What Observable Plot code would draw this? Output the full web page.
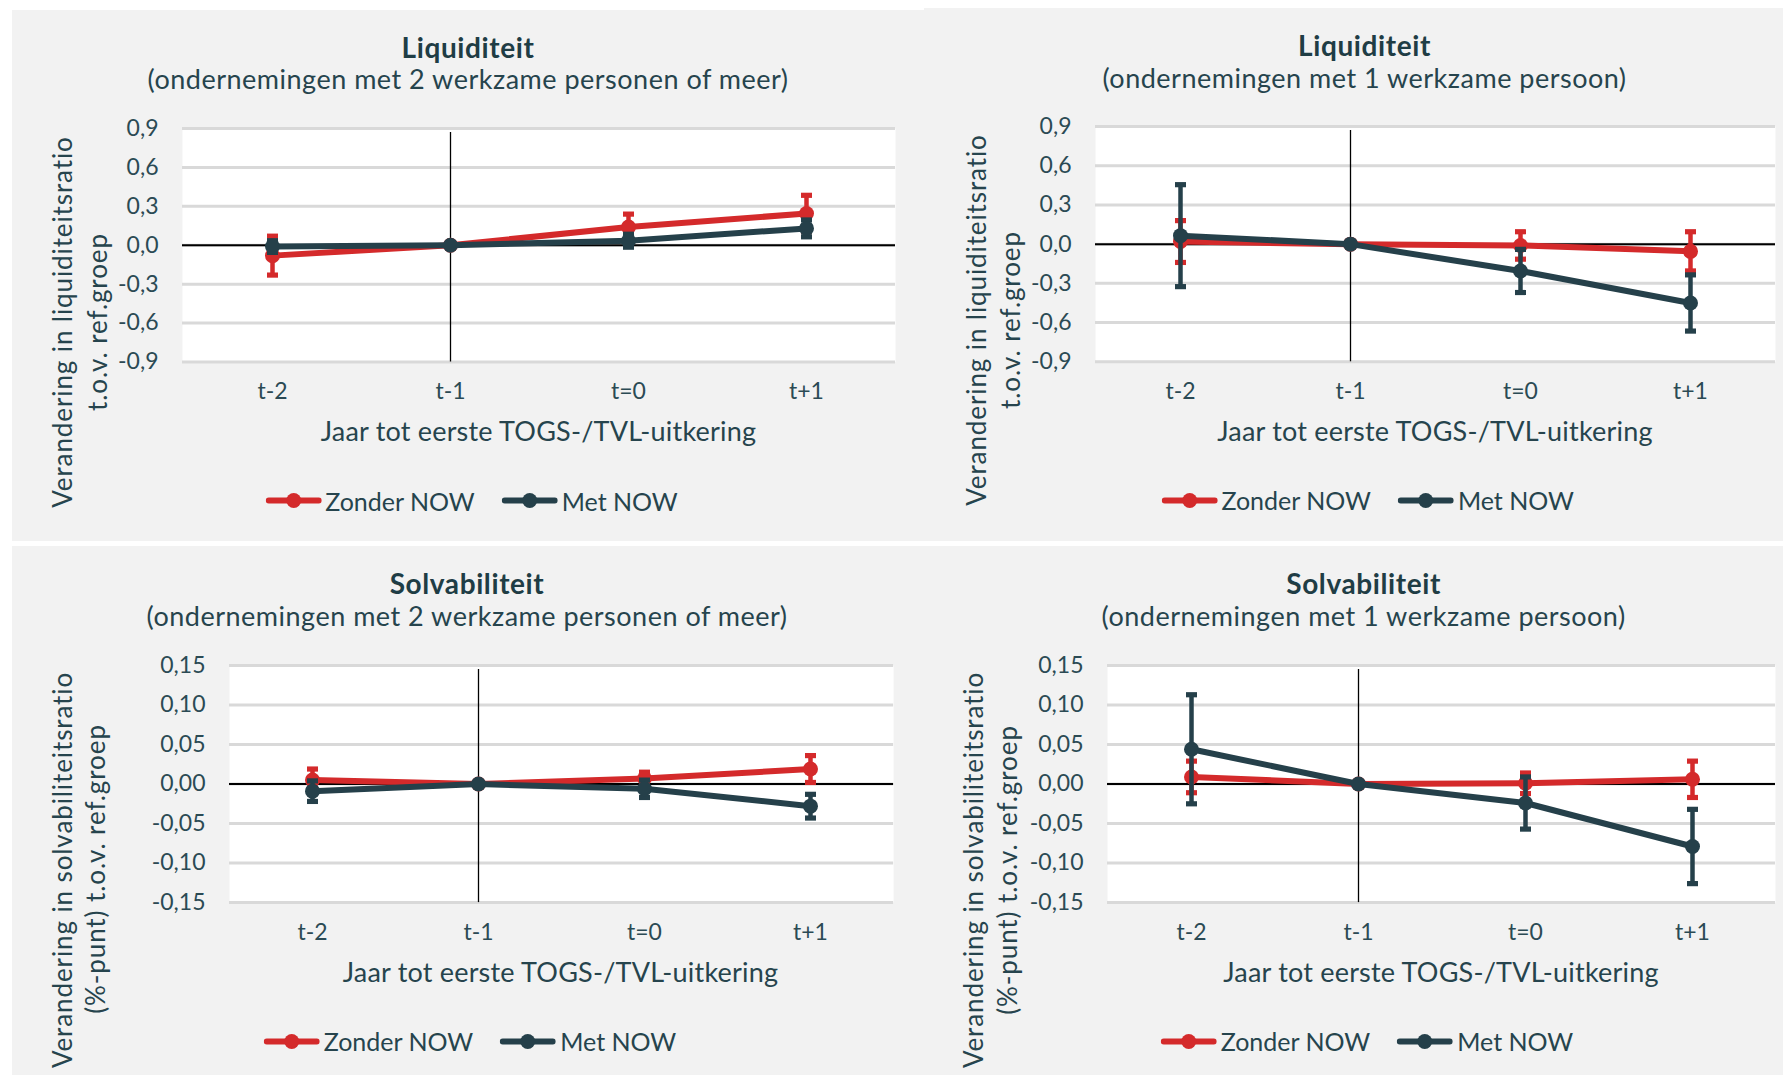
<!DOCTYPE html>
<html>
<head>
<meta charset="utf-8">
<script src="https://cdn.jsdelivr.net/npm/d3@7"></script>
<script src="https://cdn.jsdelivr.net/npm/@observablehq/plot@0.6"></script>
<style>
  body { margin:0; width:1785px; height:1075px; position:relative; background:#fff; overflow:hidden;
         font-family: Lato, "Noto Sans", sans-serif; color:#26444d; }
  .panel { position:absolute; background:#f2f2f2; }
  .t { position:absolute; white-space:nowrap; transform:translate(-50%,-50%); line-height:1; }
  .title { font-weight:700; font-size:28px; letter-spacing:0.6px; color:#1f3d45; }
  .sub { font-size:27px; letter-spacing:0.5px; }
  .xlab { font-size:27px; letter-spacing:0.2px; }
  .ylab { position:absolute; white-space:nowrap; transform:translate(-50%,-50%) rotate(-90deg); font-size:26px; letter-spacing:0.9px; line-height:1; }
  .legend { position:absolute; display:flex; align-items:center; transform:translate(-50%,-50%); font-size:25px; white-space:nowrap; line-height:1; }
  .legend .item { display:flex; align-items:center; }
  .legend .item + .item { margin-left:27px; }
  .legend svg { display:block; margin-right:4px; }
  svg.chart { position:absolute; }
</style>
</head>
<body>
<script>
// ---------- data ----------
const categories = ["t-2", "t-1", "t=0", "t+1"];
const seriesNames = ["Zonder NOW", "Met NOW"];
const seriesColors = ["#d42a2b", "#25404a"];

const liqTicks = [-0.9, -0.6, -0.3, 0, 0.3, 0.6, 0.9];
const solvTicks = [-0.15, -0.10, -0.05, 0, 0.05, 0.10, 0.15];

// Liquiditeit, 2+ werkzame personen
const liq2Zonder    = [-0.08, 0, 0.14, 0.245];
const liq2ZonderErr = [0.15, 0, 0.10, 0.14];
const liq2Met       = [-0.01, 0, 0.035, 0.13];
const liq2MetErr    = [0.045, 0, 0.05, 0.065];

// Liquiditeit, 1 werkzame persoon
const liq1Zonder    = [0.02, 0, -0.01, -0.055];
const liq1ZonderErr = [0.16, 0, 0.105, 0.15];
const liq1Met       = [0.065, 0, -0.205, -0.45];
const liq1MetErr    = [0.39, 0, 0.165, 0.215];

// Solvabiliteit, 2+ werkzame personen
const solv2Zonder    = [0.005, 0, 0.007, 0.019];
const solv2ZonderErr = [0.014, 0, 0.008, 0.017];
const solv2Met       = [-0.009, 0, -0.006, -0.028];
const solv2MetErr    = [0.013, 0, 0.011, 0.015];

// Solvabiliteit, 1 werkzame persoon
const solv1Zonder    = [0.009, 0, 0.001, 0.006];
const solv1ZonderErr = [0.02, 0, 0.013, 0.023];
const solv1Met       = [0.044, 0, -0.024, -0.079];
const solv1MetErr    = [0.069, 0, 0.033, 0.047];

const xLabel = "Jaar tot eerste TOGS-/TVL-uitkering";

// ---------- layout ----------
const panels = [
  { title:"Liquiditeit", sub:"(ondernemingen met 2 werkzame personen of meer)",
    ylab:["Verandering in liquiditeitsratio", "t.o.v. ref.groep"],
    ticks:liqTicks, dec:1, values:[liq2Zonder, liq2Met], errors:[liq2ZonderErr, liq2MetErr],
    bg:[12,10,912,531], plot:[182,128,895,361.5], tc:[468,46.5], sy:78, xl:[538.5,430],
    yl1:[62,321.6], yl2:[97,322], lg:[471.5,500.5] },
  { title:"Liquiditeit", sub:"(ondernemingen met 1 werkzame persoon)",
    ylab:["Verandering in liquiditeitsratio", "t.o.v. ref.groep"],
    ticks:liqTicks, dec:1, values:[liq1Zonder, liq1Met], errors:[liq1ZonderErr, liq1MetErr],
    bg:[924,8,859,533], plot:[1095,125.7,1775,361], tc:[1364.5,44.8], sy:77, xl:[1435,430],
    yl1:[976,320], yl2:[1010,320], lg:[1367.7,500] },
  { title:"Solvabiliteit", sub:"(ondernemingen met 2 werkzame personen of meer)",
    ylab:["Verandering in solvabiliteitsratio", "(%-punt) t.o.v. ref.groep"],
    ticks:solvTicks, dec:2, values:[solv2Zonder, solv2Met], errors:[solv2ZonderErr, solv2MetErr],
    bg:[12,546,912,529], plot:[228.5,664.5,892.6,901.6], tc:[467,582.5], sy:615, xl:[560.5,970.5],
    yl1:[62,870], yl2:[95,869], lg:[470,1041] },
  { title:"Solvabiliteit", sub:"(ondernemingen met 1 werkzame persoon)",
    ylab:["Verandering in solvabiliteitsratio", "(%-punt) t.o.v. ref.groep"],
    ticks:solvTicks, dec:2, values:[solv1Zonder, solv1Met], errors:[solv1ZonderErr, solv1MetErr],
    bg:[924,546,859,529], plot:[1107,664.5,1775,901.6], tc:[1363.6,582.5], sy:615, xl:[1441,970.5],
    yl1:[973,870], yl2:[1007,870], lg:[1367,1041] }
];

const capSymbol = { draw(ctx) { ctx.rect(-5.5, -2.6, 11, 5.2); } };

function el(tag, cls, text, x, y) {
  const e = document.createElement(tag);
  if (cls) e.className = cls;
  if (text != null) e.textContent = text;
  if (x != null) { e.style.left = x + "px"; e.style.top = y + "px"; }
  document.body.appendChild(e);
  return e;
}

function fmt(dec) {
  return d => (d < 0 ? "-" : "") + Math.abs(d).toFixed(dec).replace(".", ",");
}

function swatch(color) {
  const ns = "http://www.w3.org/2000/svg";
  const s = document.createElementNS(ns, "svg");
  s.setAttribute("width", 56); s.setAttribute("height", 18);
  const l = document.createElementNS(ns, "line");
  l.setAttribute("x1", 3); l.setAttribute("x2", 53); l.setAttribute("y1", 9); l.setAttribute("y2", 9);
  l.setAttribute("stroke", color); l.setAttribute("stroke-width", 6); l.setAttribute("stroke-linecap", "round");
  const c = document.createElementNS(ns, "circle");
  c.setAttribute("cx", 28); c.setAttribute("cy", 9); c.setAttribute("r", 7.5); c.setAttribute("fill", color);
  s.appendChild(l); s.appendChild(c);
  return s;
}

const mL = 120, mR = 10, mT = 20, mB = 60;

panels.forEach(p => {
  const bg = el("div", "panel");
  Object.assign(bg.style, { left: p.bg[0]+"px", top: p.bg[1]+"px", width: p.bg[2]+"px", height: p.bg[3]+"px" });

  el("div", "t title", p.title, p.tc[0], p.tc[1]);
  el("div", "t sub", p.sub, p.tc[0], p.sy);
  el("div", "t xlab", xLabel, p.xl[0], p.xl[1]);
  el("div", "ylab", p.ylab[0], p.yl1[0], p.yl1[1]);
  el("div", "ylab", p.ylab[1], p.yl2[0], p.yl2[1]);

  const [x0, y0, x1, y1] = p.plot;
  const width = (x1 - x0) + mL + mR;
  const height = (y1 - y0) + mT + mB;

  const marks = [
    Plot.frame({ fill: "white", stroke: "none" }),
    Plot.ruleY(p.ticks, { stroke: "#d9d9d9", strokeWidth: 3 }),
    Plot.ruleY([0], { stroke: "#000", strokeWidth: 2 }),
    Plot.ruleX([categories[1]], { stroke: "#000", strokeWidth: 1.3, insetTop: 4 })
  ];
  seriesNames.forEach((name, si) => {
    const color = seriesColors[si];
    const rows = categories.map((c, i) => ({ cat: c, v: p.values[si][i], e: p.errors[si][i] }));
    const eb = rows.filter(r => r.e > 0);
    const caps = eb.flatMap(r => [{ cat: r.cat, y: r.v - r.e }, { cat: r.cat, y: r.v + r.e }]);
    marks.push(
      Plot.line(rows, { x: "cat", y: "v", stroke: color, strokeWidth: 6 }),
      Plot.ruleX(eb, { x: "cat", y1: r => r.v - r.e, y2: r => r.v + r.e, stroke: color, strokeWidth: 4.5 }),
      Plot.dot(caps, { x: "cat", y: "y", symbol: capSymbol, fill: color, stroke: "none" }),
      Plot.dot(rows, { x: "cat", y: "v", r: 7.5, fill: color, stroke: "none" })
    );
  });

  const chart = Plot.plot({
    width, height,
    marginLeft: mL, marginRight: mR, marginTop: mT, marginBottom: mB,
    style: { background: "transparent", overflow: "visible", fontFamily: "Lato, sans-serif",
             fontSize: "23px", color: "#2b4a54", maxWidth: "none" },
    x: { type: "point", domain: categories, padding: 0.5, label: null, tickSize: 0, tickPadding: 21 },
    y: { domain: [p.ticks[0], p.ticks[p.ticks.length - 1]], ticks: p.ticks, tickFormat: fmt(p.dec),
         label: null, tickSize: 0, tickPadding: 24 },
    marks
  });
  chart.classList.add("chart");
  chart.style.left = (x0 - mL) + "px";
  chart.style.top = (y0 - mT) + "px";
  document.body.appendChild(chart);

  const lg = el("div", "legend", null, p.lg[0], p.lg[1]);
  seriesNames.forEach((name, si) => {
    const item = document.createElement("div");
    item.className = "item";
    item.appendChild(swatch(seriesColors[si]));
    const span = document.createElement("span");
    span.textContent = name;
    item.appendChild(span);
    lg.appendChild(item);
  });
});
</script>
</body>
</html>
